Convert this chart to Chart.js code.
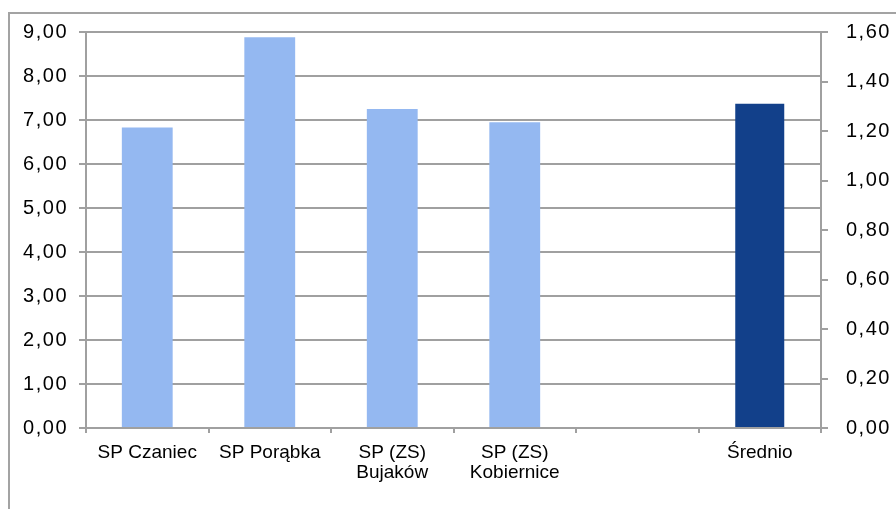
<!DOCTYPE html>
<html>
<head>
<meta charset="utf-8">
<script src="https://cdn.jsdelivr.net/npm/chart.js@4"></script>
<style>
  html, body { margin: 0; padding: 0; background: #fff; overflow: hidden; }
  #wrap { position: relative; width: 896px; height: 509px; }
  #frame {
    position: absolute; left: 8px; top: 12px;
    width: 1000px; height: 1000px;
    border: 2px solid #a3a3a3;
  }
  #chart { position: absolute; left: 0; top: 0; }
</style>
</head>
<body>
<div id="wrap">
  <div id="frame"></div>
  <canvas id="chart" width="896" height="509"></canvas>
</div>
<script>
// categories (empty slot before the average bar)
const categories = [
  'SP Czaniec',
  'SP Porąbka',
  ['SP (ZS)', 'Bujaków'],
  ['SP (ZS)', 'Kobiernice'],
  '',
  'Średnio'
];

// schools, read on the left axis
const schoolValues = [6.83, 8.88, 7.25, 6.95, null, null];
// average, read on the right axis
const averageValues = [null, null, null, null, null, 1.31];

const leftMax = 9;
const leftStep = 1;
const rightMax = 1.6;
const rightStep = 0.2;

const gridColor = '#a0a0a0';

function formatTick(value) {
  return value.toFixed(2).replace('.', ',');
}

// the y tick labels in the original are a bit wider than plain Arial
const spacedTicks = {
  id: 'spacedTicks',
  afterLayout(chart) {
    ['y', 'y1'].forEach(id => {
      const scale = chart.scales[id];
      if (scale._spaced) return;
      const draw = scale.drawLabels;
      scale.drawLabels = function (area) {
        const ctx = this.ctx;
        ctx.save();
        ctx.letterSpacing = '1.5px';
        draw.call(this, area);
        ctx.restore();
      };
      scale._spaced = true;
    });
  }
};

new Chart(document.querySelector('#chart'), {
  type: 'bar',
  data: {
    labels: categories,
    datasets: [
      {
        data: schoolValues,
        yAxisID: 'y',
        backgroundColor: '#94b8f1',
        barPercentage: 0.415,
        categoryPercentage: 1
      },
      {
        data: averageValues,
        yAxisID: 'y1',
        backgroundColor: '#12408a',
        barPercentage: 0.4,
        categoryPercentage: 1
      }
    ]
  },
  options: {
    responsive: false,
    animation: false,
    grouped: false,
    layout: {
      padding: { top: 32, left: 0, right: 0, bottom: 0 }
    },
    plugins: {
      legend: { display: false },
      tooltip: { enabled: false },
      title: { display: false }
    },
    scales: {
      x: {
        grid: {
          offset: true,
          drawOnChartArea: false,
          drawTicks: true,
          tickLength: 5,
          color: gridColor,
          lineWidth: 2
        },
        border: { color: gridColor, width: 2 },
        ticks: {
          color: '#000',
          padding: 10,
          maxRotation: 0,
          autoSkip: false,
          font: { family: 'Liberation Sans, Arial, sans-serif', size: 19, lineHeight: 1.05 }
        },
        afterFit: scale => { scale.height = 81; }
      },
      y: {
        position: 'left',
        min: 0,
        max: leftMax,
        grid: {
          color: gridColor,
          lineWidth: 2,
          drawTicks: true,
          tickLength: 7
        },
        border: { color: gridColor, width: 2 },
        ticks: {
          stepSize: leftStep,
          color: '#000',
          padding: 11,
          font: { family: 'Liberation Sans, Arial, sans-serif', size: 20 },
          callback: value => formatTick(value)
        },
        afterFit: scale => { scale.width = 86; }
      },
      y1: {
        position: 'right',
        min: 0,
        max: rightMax,
        grid: {
          drawOnChartArea: false,
          drawTicks: true,
          tickLength: 7,
          color: gridColor,
          lineWidth: 2
        },
        border: { color: gridColor, width: 2 },
        ticks: {
          stepSize: rightStep,
          color: '#000',
          padding: 18,
          font: { family: 'Liberation Sans, Arial, sans-serif', size: 20 },
          callback: value => formatTick(value)
        },
        afterFit: scale => { scale.width = 75; }
      }
    }
  },
  plugins: [spacedTicks]
});
</script>
</body>
</html>
